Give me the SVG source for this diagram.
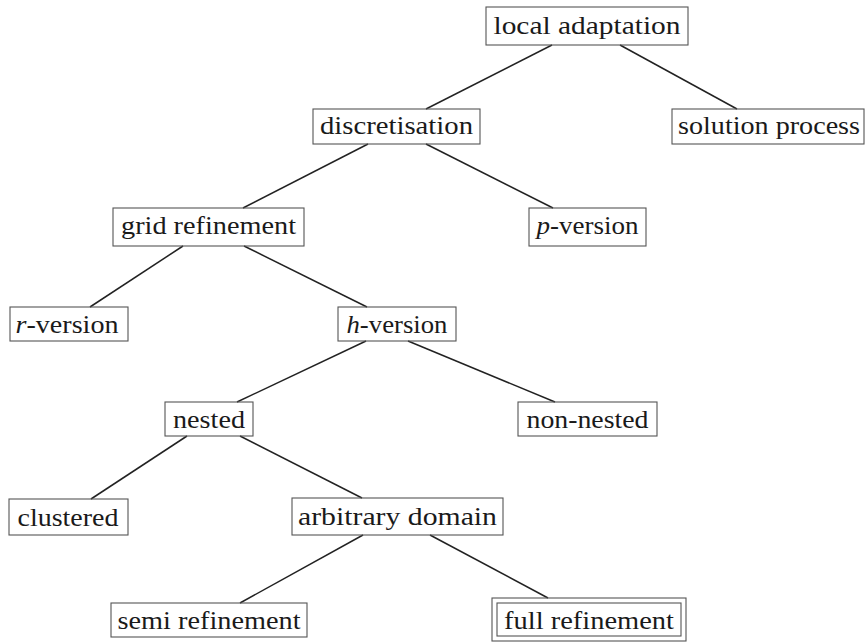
<svg xmlns="http://www.w3.org/2000/svg" width="865" height="642" viewBox="0 0 865 642">
<style>
.box{fill:none;stroke:#555;stroke-width:1.1}
.t{font-family:'Times New Roman','Liberation Serif',Times,serif;font-size:25px;fill:#1a1a1a;text-anchor:middle}
.i{font-style:italic}
.edge{stroke:#222;stroke-width:1.5;fill:none}
</style>
<rect width="865" height="642" fill="#fff"/>
<g id="connectors">
<line class="edge" x1="552" y1="45" x2="426" y2="109"/>
<line class="edge" x1="620" y1="45" x2="737" y2="109"/>
<line class="edge" x1="368" y1="144" x2="243" y2="208"/>
<line class="edge" x1="426" y1="144" x2="553" y2="208"/>
<line class="edge" x1="183" y1="246" x2="90" y2="307"/>
<line class="edge" x1="244" y1="246" x2="367" y2="307"/>
<line class="edge" x1="366" y1="341" x2="237" y2="402"/>
<line class="edge" x1="408" y1="341" x2="555" y2="402"/>
<line class="edge" x1="187" y1="436" x2="91" y2="499"/>
<line class="edge" x1="240" y1="436" x2="362" y2="498"/>
<line class="edge" x1="363" y1="535" x2="240" y2="603"/>
<line class="edge" x1="430" y1="535" x2="548" y2="598"/>
</g>
<g id="n-local-adaptation">
<rect class="box" x="486" y="7" width="202" height="38"/>
<text class="t" x="587" y="34" textLength="187" lengthAdjust="spacingAndGlyphs">local adaptation</text>
</g>
<g id="n-solution-process">
<rect class="box" x="672" y="109" width="192" height="35"/>
<text class="t" x="769" y="134" textLength="182" lengthAdjust="spacingAndGlyphs">solution process</text>
</g>
<g id="n-discretisation">
<rect class="box" x="313" y="109" width="167" height="35"/>
<text class="t" x="396.5" y="134" textLength="153" lengthAdjust="spacingAndGlyphs">discretisation</text>
</g>
<g id="n-grid-refinement">
<rect class="box" x="113" y="208" width="191" height="38"/>
<text class="t" x="208.5" y="234" textLength="175" lengthAdjust="spacingAndGlyphs">grid refinement</text>
</g>
<g id="n-p-version">
<rect class="box" x="529" y="208" width="117" height="38"/>
<text class="t" x="587.5" y="234" textLength="102" lengthAdjust="spacingAndGlyphs"><tspan class="i">p</tspan>-version</text>
</g>
<g id="n-r-version">
<rect class="box" x="10" y="307" width="118" height="34"/>
<text class="t" x="67" y="333" textLength="103" lengthAdjust="spacingAndGlyphs"><tspan class="i">r</tspan>-version</text>
</g>
<g id="n-h-version">
<rect class="box" x="338" y="307" width="118" height="34"/>
<text class="t" x="397" y="333" textLength="101" lengthAdjust="spacingAndGlyphs"><tspan class="i">h</tspan>-version</text>
</g>
<g id="n-nested">
<rect class="box" x="165" y="402" width="88" height="34"/>
<text class="t" x="209" y="428" textLength="72" lengthAdjust="spacingAndGlyphs">nested</text>
</g>
<g id="n-non-nested">
<rect class="box" x="518" y="402" width="139" height="34"/>
<text class="t" x="587.5" y="428" textLength="122" lengthAdjust="spacingAndGlyphs">non-nested</text>
</g>
<g id="n-clustered">
<rect class="box" x="9" y="499" width="119" height="36"/>
<text class="t" x="68" y="526" textLength="101" lengthAdjust="spacingAndGlyphs">clustered</text>
</g>
<g id="n-arbitrary-domain">
<rect class="box" x="292" y="498" width="211" height="37"/>
<text class="t" x="397.5" y="525" textLength="199" lengthAdjust="spacingAndGlyphs">arbitrary domain</text>
</g>
<g id="n-semi-refinement">
<rect class="box" x="111" y="603" width="196" height="34"/>
<text class="t" x="209" y="629" textLength="183" lengthAdjust="spacingAndGlyphs">semi refinement</text>
</g>
<g id="n-full-refinement">
<rect class="box" x="492" y="598" width="194" height="43"/>
<rect class="box" x="497" y="603" width="184" height="33"/>
<text class="t" x="589" y="629" textLength="170" lengthAdjust="spacingAndGlyphs">full refinement</text>
</g>
</svg>
